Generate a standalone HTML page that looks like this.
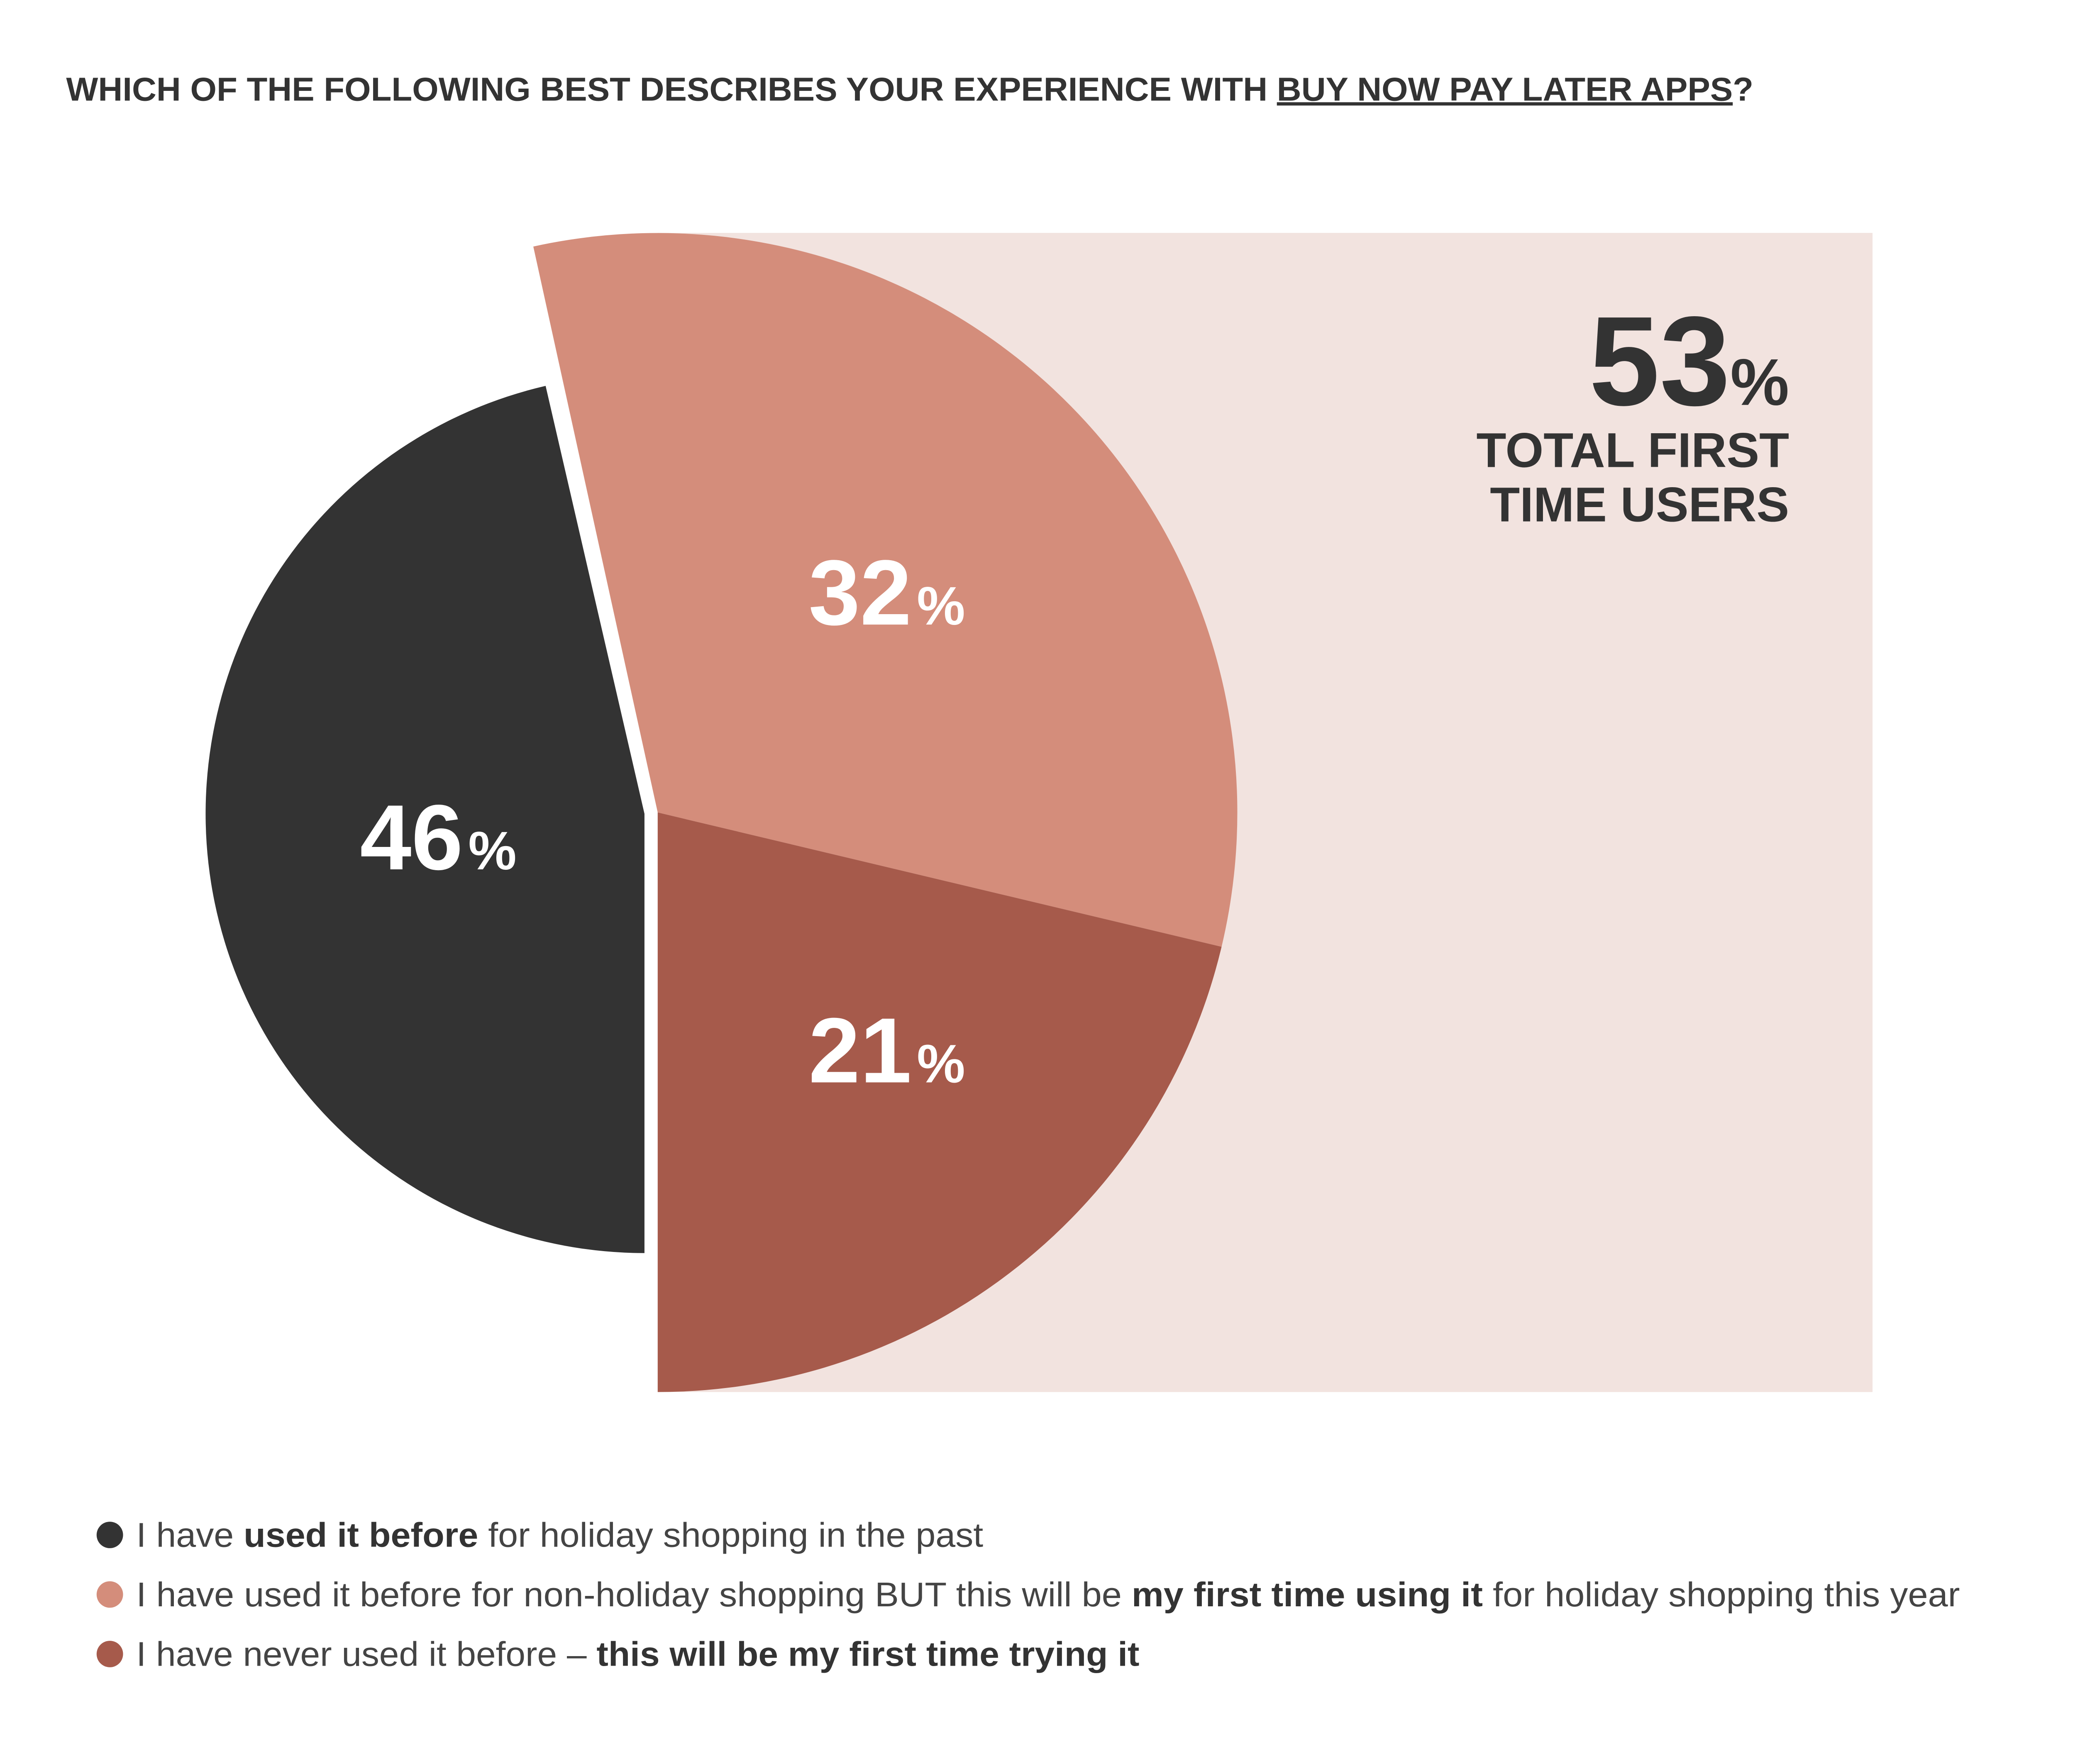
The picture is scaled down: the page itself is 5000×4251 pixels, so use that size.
<!DOCTYPE html>
<html><head><meta charset="utf-8"><style>
html,body{margin:0;padding:0;background:#fff;}
svg{display:block;}
text{font-family:"Liberation Sans",sans-serif;}
</style></head><body>
<svg width="5000" height="4251" viewBox="0 0 1568 1333.1" preserveAspectRatio="none" xmlns="http://www.w3.org/2000/svg">
<rect width="1568" height="1333.1" fill="#fff"/>
<text x="50" y="76" font-size="25" font-weight="bold" fill="#333" textLength="1275" lengthAdjust="spacingAndGlyphs">WHICH OF THE FOLLOWING BEST DESCRIBES YOUR EXPERIENCE WITH <tspan text-decoration="underline">BUY NOW PAY LATER APPS</tspan>?</text>
<rect x="497" y="176" width="918" height="876" fill="#f2e3df"/>
<path d="M497,614 L403,186.3 A438 438 0 0 1 923.1 715.5 Z" fill="#d48d7b"/>
<path d="M497,614 L923.1,715.5 A438 438 0 0 1 497 1052 Z" fill="#a65a4b"/>
<path d="M487,615 L487,947 A332 332 0 0 1 412.3 291.6 Z" fill="#333333"/>
<text x="272" y="657" font-size="70" font-weight="bold" fill="#fff">46<tspan font-size="41" dx="4">%</tspan></text>
<text x="611" y="472" font-size="70" font-weight="bold" fill="#fff">32<tspan font-size="41" dx="4">%</tspan></text>
<text x="611" y="818" font-size="70" font-weight="bold" fill="#fff">21<tspan font-size="41" dx="4">%</tspan></text>
<text x="1352" y="306" font-size="96" font-weight="bold" fill="#333" text-anchor="end">53<tspan font-size="50">%</tspan></text>
<text x="1352" y="353" font-size="37" font-weight="bold" fill="#333" text-anchor="end">TOTAL FIRST</text>
<text x="1352" y="394" font-size="37" font-weight="bold" fill="#333" text-anchor="end">TIME USERS</text>
<circle cx="83" cy="1160" r="10" fill="#333"/>
<circle cx="83" cy="1205" r="10" fill="#d48d7b"/>
<circle cx="83" cy="1250" r="10" fill="#a65a4b"/>
<g font-size="26" fill="#444">
<text x="103" y="1169" textLength="640" lengthAdjust="spacingAndGlyphs">I have <tspan font-weight="bold" fill="#333">used it before</tspan> for holiday shopping in the past</text>
<text x="103" y="1214" textLength="1378" lengthAdjust="spacingAndGlyphs">I have used it before for non-holiday shopping BUT this will be <tspan font-weight="bold" fill="#333">my first time using it</tspan> for holiday shopping this year</text>
<text x="103" y="1259" textLength="758" lengthAdjust="spacingAndGlyphs">I have never used it before – <tspan font-weight="bold" fill="#333">this will be my first time trying it</tspan></text>
</g>
</svg>
</body></html>
